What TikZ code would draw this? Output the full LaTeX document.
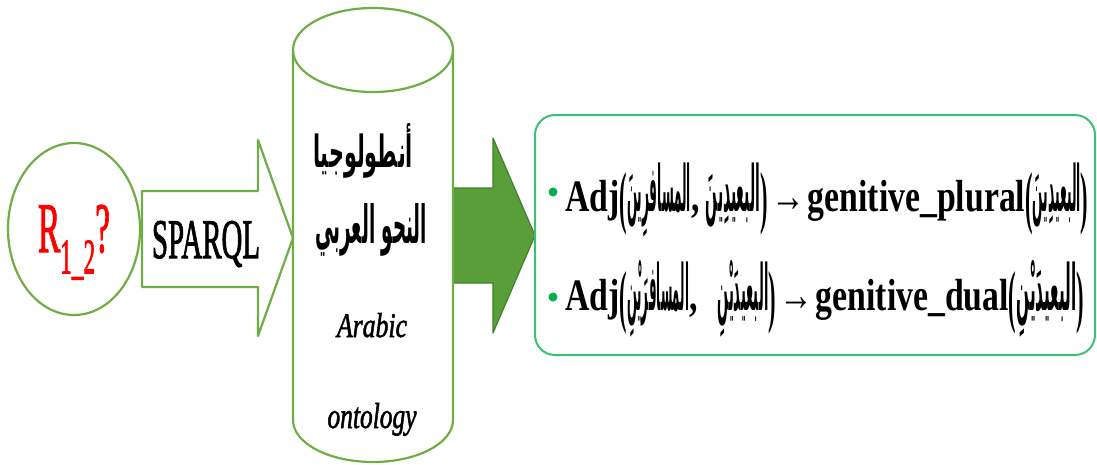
\documentclass[tikz,border=0pt]{standalone}
\usepackage{fontspec}
\usepackage{graphicx}
\setmainfont{Liberation Serif}
\newfontfamily\heavyserif[FakeBold=2]{Liberation Serif}
\newfontfamily\semiserif[FakeBold=1.8]{Liberation Serif}
\newfontfamily\arabicfont[Script=Arabic]{DejaVu Sans}
\TeXXeTstate=1

\definecolor{outgreen}{HTML}{70AD47}
\definecolor{arrowfill}{HTML}{5A9E3A}
\definecolor{arrowedge}{HTML}{40802C}
\definecolor{boxgreen}{HTML}{3CC072}
\definecolor{dotgreen}{HTML}{00B050}

% condensed bold Latin piece, Arabic word fitted to a width, tall brackets
\newcommand\lat[1]{\scalebox{0.75}[1]{\bfseries #1}}
\newcommand\arw[2]{\resizebox{#1}{\height}{\fontsize{64}{66}\arabicfont\bfseries\beginR #2\endR}}
\newcommand\lpar{\raisebox{-9pt}{\scalebox{0.5}[1.54]{\bfseries (}}}
\newcommand\rpar{\raisebox{-9pt}{\scalebox{0.5}[1.54]{\bfseries )}}}

\tikzset{
  outline/.style={draw=outgreen, line width=2.2pt, line join=round},
  label/.style={inner sep=0pt, anchor=base},
  rule/.style={inner sep=0pt, anchor=base west, font=\fontsize{45}{50}\selectfont},
  dot/.style={circle, fill=dotgreen, inner sep=0pt, minimum size=9pt}
}

\begin{document}
\begin{tikzpicture}[x=1pt, y=-1pt]
\useasboundingbox (0,0) rectangle (1097,464);

% query bubble
\draw[outline] (74,229) ellipse [x radius=66, y radius=86];
\node[label] (query) at (74,252)
  {\resizebox{72pt}{47pt}{\heavyserif\color{red}R\raisebox{-0.3em}{\scalebox{0.7}{1\_2}}?}};

% SPARQL block arrow
\draw[outline] (142,191) -- (258,191) -- (258,140) -- (293,238)
  -- (258,336) -- (258,287) -- (142,287) -- cycle;
\node[label] (sparql) at (206,258) {\resizebox{108pt}{37pt}{\heavyserif SPARQL}};

% filled arrow towards the rules
\draw[fill=arrowfill, draw=arrowedge, line width=1.2pt, line join=round]
  (453,188) -- (493,188) -- (493,138) -- (535,235.5)
  -- (493,333) -- (493,283) -- (453,283) -- cycle;

% ontology cylinder
\draw[outline] (293,50) -- (293,420)
  arc[start angle=180, end angle=0, x radius=80, y radius=42] -- (453,50);
\draw[outline] (373,50) ellipse [x radius=80, y radius=42];
\node[label] (ar1) at (363,167)
  {\resizebox{100pt}{44pt}{\arabicfont\bfseries\beginR أنطولوجيا\endR}};
\node[label] (ar2) at (371,243)
  {\resizebox{112pt}{40pt}{\arabicfont\bfseries\beginR النحو العربي\endR}};
\node[label] (en1) at (372,337) {\resizebox{70pt}{24pt}{\semiserif\itshape Arabic}};
\node[label] (en2) at (372,428) {\resizebox{89pt}{25pt}{\semiserif\itshape ontology}};

% rules box
\draw[draw=boxgreen, line width=2pt, rounded corners=20pt]
  (535,115) rectangle (1095,355);
\node[dot] (b1) at (553,192) {};
\node[dot] (b2) at (553,297) {};
\node[rule] (r1) at (565,211) {\lat{Adj}\lpar\arw{64pt}{المسافرِينَ}\lat{,}\hspace{6pt}\arw{55pt}{البعيدِينَ}\rpar\hspace{3pt}\lat{→}\hspace{3pt}\lat{genitive\_plural}\lpar\arw{48pt}{البعيدِينَ}\rpar};
\node[rule] (r2) at (565,310) {\lat{Adj}\lpar\arw{62pt}{المسافرَيْنِ}\lat{,}\hspace{20pt}\arw{51pt}{البعيدَيْنِ}\rpar\hspace{3pt}\lat{→}\hspace{3pt}\lat{genitive\_dual}\lpar\arw{60pt}{البعيدَيْنِ}\rpar};
\end{tikzpicture}
\end{document}
